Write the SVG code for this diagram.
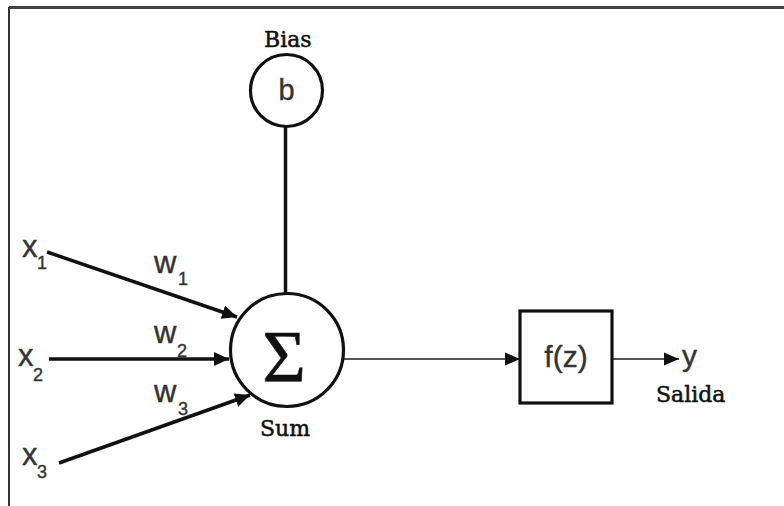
<svg xmlns="http://www.w3.org/2000/svg" width="784" height="506" viewBox="0 0 784 506">
<style>
.sans{font-family:"Liberation Sans",Arial,sans-serif;fill:#333;stroke:#333;stroke-width:0.4;}
.serif{font-family:"DejaVu Serif","Liberation Serif",serif;fill:#111;stroke:#111;stroke-width:0.5;font-size:22px;}
.thick{stroke:#111;stroke-width:3.5;fill:none;}
.thin{stroke:#555;stroke-width:2.2;fill:none;}
.node{fill:#fff;stroke:#111;stroke-width:3.2;}
</style>
<defs>
<marker id="ah" markerUnits="userSpaceOnUse" markerWidth="16" markerHeight="14" refX="15" refY="7" orient="auto">
<path d="M0,0 L15,7 L0,14 Z" fill="#111"/>
</marker>
<marker id="ahs" markerUnits="userSpaceOnUse" markerWidth="16" markerHeight="14" refX="15" refY="7" orient="auto">
<path d="M0,0.5 L15,7 L0,13.5 Z" fill="#111"/>
</marker>
</defs>
<rect width="784" height="506" fill="#fff"/>
<g id="frame">
<line x1="9" y1="7.5" x2="784" y2="7.5" stroke="#444" stroke-width="3"/>
<line x1="9" y1="7" x2="9" y2="506" stroke="#333" stroke-width="2"/>
</g>
<g id="connectors">
<line class="thick" x1="285.5" y1="126" x2="285.5" y2="294"/>
<line class="thick" x1="47" y1="252" x2="237" y2="317" marker-end="url(#ah)"/>
<line class="thick" x1="49" y1="359" x2="229" y2="359" marker-end="url(#ah)"/>
<line class="thick" x1="59" y1="463" x2="250" y2="395" marker-end="url(#ah)"/>
<line class="thin" x1="344" y1="359" x2="520" y2="359" marker-end="url(#ahs)"/>
<line class="thin" x1="612" y1="359" x2="679" y2="359" marker-end="url(#ahs)"/>
</g>
<g id="bias">
<circle class="node" cx="286.5" cy="90.5" r="36"/>
<text class="sans" x="286.5" y="100" font-size="29" text-anchor="middle">b</text>
<text class="serif" x="264" y="47">Bias</text>
</g>
<g id="sum">
<circle class="node" cx="287" cy="350" r="56.5"/>
<text x="284" y="382" font-family="'Liberation Serif','Times New Roman',serif" font-size="75" fill="#111" stroke="#111" stroke-width="0.6" text-anchor="middle">Σ</text>
<text class="serif" x="260" y="436">Sum</text>
</g>
<g id="activation">
<rect class="node" x="520" y="311" width="92" height="92"/>
<text class="sans" x="566" y="367" font-size="30" text-anchor="middle">f(z)</text>
</g>
<g id="output">
<text class="sans" x="682" y="366" font-size="30">y</text>
<text class="serif" x="656" y="402">Salida</text>
</g>
<g id="inputs">
<text class="sans" x="22" y="257" font-size="31">x</text>
<text class="sans" x="37" y="269" font-size="18">1</text>
<text class="sans" x="18" y="366" font-size="31">x</text>
<text class="sans" x="33" y="381" font-size="18">2</text>
<text class="sans" x="22" y="465" font-size="31">x</text>
<text class="sans" x="37" y="478" font-size="18">3</text>
</g>
<g id="weights">
<text class="sans" x="154" y="273" font-size="31">w</text>
<text class="sans" x="178" y="285" font-size="18">1</text>
<text class="sans" x="154" y="343" font-size="31">w</text>
<text class="sans" x="177" y="357" font-size="18">2</text>
<text class="sans" x="154" y="402" font-size="31">w</text>
<text class="sans" x="178" y="415" font-size="18">3</text>
</g>
</svg>
